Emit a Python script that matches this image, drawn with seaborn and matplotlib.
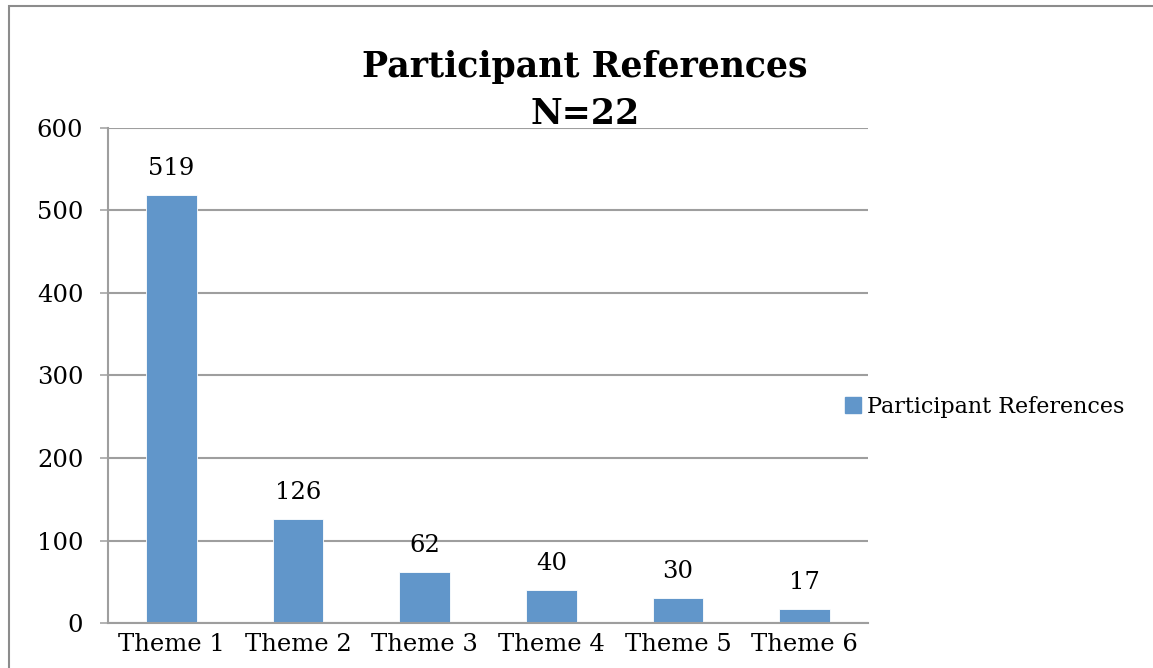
import matplotlib.pyplot as plt
import matplotlib.patches as mpatches
import seaborn as sns

# Chart data
themes = ['Theme 1', 'Theme 2', 'Theme 3', 'Theme 4', 'Theme 5', 'Theme 6']
references = [519, 126, 62, 40, 30, 17]
series_name = 'Participant References'
title_lines = ['Participant References', 'N=22']
y_ticks = [0, 100, 200, 300, 400, 500, 600]

bar_color = '#6196CA'
grid_color = '#9E9E9E'

sns.set_theme(style='white')
plt.rcParams['font.family'] = ['DejaVu Serif']
plt.rcParams['text.color'] = 'black'

fig = plt.figure(figsize=(11.53, 6.68), dpi=100)
ax = fig.add_axes([108 / 1153, 1 - 623 / 668, 760 / 1153, 495 / 668])

# Outer chart border
fig.patches.append(mpatches.Rectangle((9 / 1153, -0.1), 1.2, 1 - 6 / 668 + 0.1,
                                      transform=fig.transFigure, fill=False,
                                      edgecolor='#8C8C8C', linewidth=1.5))

sns.barplot(x=themes, y=references, color=bar_color, width=0.4, ax=ax,
            saturation=1, edgecolor='white', linewidth=0.6)

# Value labels
ax.bar_label(ax.containers[0], labels=[str(v) for v in references],
             padding=11, fontsize=17.5, color='black')

ax.set_ylim(0, 600)
ax.set_yticks(y_ticks)
ax.set_xlim(-0.5, len(themes) - 0.5)
ax.yaxis.grid(True, color=grid_color, linewidth=1.5)
ax.set_axisbelow(True)

for side in ['top', 'right']:
    ax.spines[side].set_visible(False)
for side in ['left', 'bottom']:
    ax.spines[side].set_color(grid_color)
    ax.spines[side].set_linewidth(1.5)

ax.tick_params(axis='y', left=True, length=5.8, width=1.1, color=grid_color,
               pad=12, labelsize=17.5, labelcolor='black')
ax.tick_params(axis='x', bottom=False, pad=1, labelsize=17.5, labelcolor='black')

# Title
fig.text(585 / 1153, 1 - 77 / 668, title_lines[0], ha='center', va='baseline',
         fontsize=25, fontweight='bold', color='black')
fig.text(585 / 1153, 1 - 124 / 668, title_lines[1], ha='center', va='baseline',
         fontsize=25, fontweight='bold', color='black')

# Legend
handle = mpatches.Patch(color=bar_color, label=series_name)
fig.legend(handles=[handle], loc='center left',
           bbox_to_anchor=(845 / 1153, 1 - 407 / 668), frameon=False,
           fontsize=16, handlelength=0.7, handleheight=0.7, handletextpad=0.3,
           borderaxespad=0, borderpad=0, labelcolor='black')

fig.savefig('out.png', dpi=100)
